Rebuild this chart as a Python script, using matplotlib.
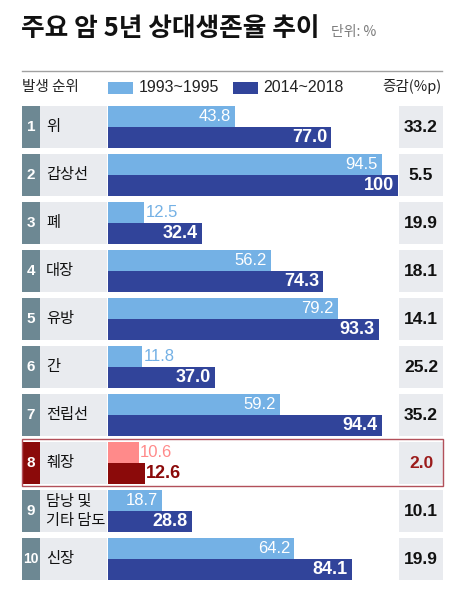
import matplotlib
matplotlib.use("Agg")
import matplotlib.pyplot as plt
from matplotlib.patches import Rectangle

plt.rcParams['font.family'] = ['Liberation Sans', 'Noto Sans CJK KR', 'DejaVu Sans']

# 데이터
ranks = [1, 2, 3, 4, 5, 6, 7, 8, 9, 10]
cancers = ['위', '갑상선', '폐', '대장', '유방', '간', '전립선', '췌장', '담낭 및\n기타 담도', '신장']
rate_1993 = [43.8, 94.5, 12.5, 56.2, 79.2, 11.8, 59.2, 10.6, 18.7, 64.2]
rate_2014 = [77.0, 100, 32.4, 74.3, 93.3, 37.0, 94.4, 12.6, 28.8, 84.1]
change = [33.2, 5.5, 19.9, 18.1, 14.1, 25.2, 35.2, 2.0, 10.1, 19.9]
highlight = 7  # 췌장

# 색
LIGHT = '#74b1e5'
DARK = '#31449a'
PINK = '#ff8a8a'
RED = '#8b0a0a'
BOX = '#6d8893'
GRAY = '#e9ebef'
KR = ['Noto Sans CJK KR', 'DejaVu Sans']

W, H = 469, 604
fig = plt.figure(figsize=(W / 100, H / 100), dpi=100, facecolor='white')

# 바탕 (픽셀 좌표)
ax0 = fig.add_axes([0, 0, 1, 1])
ax0.set_xlim(0, W)
ax0.set_ylim(H, 0)
ax0.axis('off')

ax0.text(21, 29, '주요 암 5년 상대생존율 추이', fontsize=18.5, fontweight='heavy',
         va='center', ha='left', color='#111111', family=KR)
ax0.text(331, 32, '단위: %', fontsize=10, va='center', ha='left', color='#7a7a7a', family=KR)
ax0.plot([22, 442], [71, 71], color='#a0a0a0', lw=1)

ax0.text(22, 87, '발생 순위', fontsize=10.5, va='center', ha='left', color='#222222', family=KR)
ax0.add_patch(Rectangle((108, 82), 25, 12, color=LIGHT, lw=0))
ax0.text(139, 87, '1993~1995', fontsize=11.5, va='center', ha='left', color='#222222')
ax0.add_patch(Rectangle((233, 82), 25, 12, color=DARK, lw=0))
ax0.text(263, 87, '2014~2018', fontsize=11.5, va='center', ha='left', color='#222222')
ax0.text(442, 87, '증감(%p)', fontsize=10.5, va='center', ha='right', color='#222222', family=KR)

ROW0, PITCH, RH = 106, 48, 42
for i, (r, name, c) in enumerate(zip(ranks, cancers, change)):
    top = ROW0 + PITCH * i
    hl = (i == highlight)
    ax0.add_patch(Rectangle((22, top), 18, RH, color=RED if hl else BOX, lw=0))
    ax0.add_patch(Rectangle((40, top), 67, RH, color=GRAY, lw=0))
    ax0.add_patch(Rectangle((399, top), 44, RH, color=GRAY, lw=0))
    ax0.text(31, top + RH / 2, str(r), fontsize=11 if r < 10 else 10, fontweight='bold',
             color='white', ha='center', va='center')
    ax0.text(46, top + RH / 2, name, fontsize=11, color='#111111', ha='left', va='center',
             linespacing=1.1, family=KR, fontweight='medium')
    ax0.text(421, top + RH / 2, f'{c:.1f}', fontsize=12.5, fontweight='bold',
             color='#9b1b1b' if hl else '#111111', ha='center', va='center')
    if hl:
        ax0.add_patch(Rectangle((21.5, top - 3), 421, RH + 5, fill=False,
                                edgecolor='#b2505a', lw=1))

# 막대
axb = fig.add_axes([108 / W, (H - 580) / H, 290 / W, 474 / H])
axb.set_xlim(0, 100)
axb.set_ylim(9 + RH / PITCH, 0)
axb.axis('off')
axb.patch.set_alpha(0)

bh = RH / 2 / PITCH
for i in range(len(ranks)):
    hl = (i == highlight)
    y1 = i + bh / 2
    y2 = i + bh * 1.5
    c1 = PINK if hl else LIGHT
    c2 = RED if hl else DARK
    axb.barh(y1, rate_1993[i], height=bh, color=c1, lw=0)
    axb.barh(y2, rate_2014[i], height=bh, color=c2, lw=0)

    v = rate_1993[i]
    if v >= 15:
        axb.annotate(f'{v:.1f}', (v, y1), xytext=(-3, 0), textcoords='offset points',
                     ha='right', va='center', color='white', fontsize=12)
    else:
        axb.annotate(f'{v:.1f}', (v, y1), xytext=(1, 0), textcoords='offset points',
                     ha='left', va='center', color=c1, fontsize=12)
    v = rate_2014[i]
    lab = f'{v:g}' if v == 100 else f'{v:.1f}'
    if v >= 15:
        axb.annotate(lab, (v, y2), xytext=(-3, 0), textcoords='offset points',
                     ha='right', va='center', color='white', fontsize=13, fontweight='bold')
    else:
        axb.annotate(lab, (v, y2), xytext=(1, 0), textcoords='offset points',
                     ha='left', va='center', color=c2, fontsize=13, fontweight='bold')

fig.savefig('out.png', dpi=100, facecolor='white')
